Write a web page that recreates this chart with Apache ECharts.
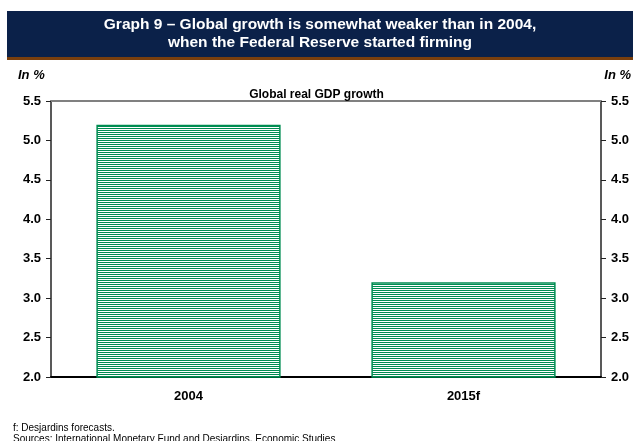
<!DOCTYPE html>
<html>
<head>
<meta charset="utf-8">
<script src="https://cdn.jsdelivr.net/npm/echarts@6/dist/echarts.min.js"></script>
<style>
  html, body { margin: 0; padding: 0; background: #ffffff; }
  #chart { width: 633px; height: 441px; }
</style>
</head>
<body>
<div id="chart"></div>
<script>
// Global real GDP growth, in %
const categories = ['2004', '2015f'];
const gdpGrowth = [5.2, 3.2];
const yTicks = [2.0, 2.5, 3.0, 3.5, 4.0, 4.5, 5.0, 5.5];

const titleLines = [
  'Graph 9 \u2013 Global growth is somewhat weaker than in 2004,',
  'when the Federal Reserve started firming'
];
const subtitle = 'Global real GDP growth';
const unitLabel = 'In %';
const notes = [
  'f: Desjardins forecasts.',
  'Sources: International Monetary Fund and Desjardins, Economic Studies'
];

const GREEN = '#008c52';
const FONT = 'Liberation Sans, Arial, sans-serif';

// Horizontal hatch fill for the bars
function stripePattern() {
  const c = document.createElement('canvas');
  c.width = 4; c.height = 2;
  const ctx = c.getContext('2d');
  ctx.fillStyle = '#ffffff';
  ctx.fillRect(0, 0, 4, 2);
  ctx.fillStyle = GREEN;
  ctx.fillRect(0, 0, 4, 1);
  return c;
}

const chart = echarts.init(document.getElementById('chart'), null, { renderer: 'canvas' });

const yMin = yTicks[0], yMax = yTicks[yTicks.length - 1], yStep = yTicks[1] - yTicks[0];

function yAxisDef(position) {
  return {
    type: 'value',
    position: position,
    min: yMin, max: yMax, interval: yStep,
    axisLine: { show: true, lineStyle: { color: '#222222', width: 1.5 } },
    axisTick: { show: true, inside: false, length: 5, lineStyle: { color: '#222222', width: 1 } },
    axisLabel: {
      formatter: v => v.toFixed(1),
      color: '#000000', fontFamily: FONT, fontWeight: 'bold', fontSize: 13,
      margin: 10
    },
    splitLine: { show: false }
  };
}

chart.setOption({
  animation: false,
  backgroundColor: '#ffffff',
  title: {
    text: subtitle,
    left: 'center',
    top: 84,
    textStyle: { fontFamily: FONT, fontWeight: 'bold', fontSize: 12, color: '#000000' }
  },
  grid: { left: 51, right: 32, top: 101, bottom: 64, containLabel: false },
  xAxis: [
    {
      type: 'category',
      data: categories,
      position: 'bottom',
      axisLine: { show: true, lineStyle: { color: '#000000', width: 2 } },
      axisTick: { show: false },
      axisLabel: {
        color: '#000000', fontFamily: FONT, fontWeight: 'bold', fontSize: 13, margin: 13
      }
    },
    {
      type: 'category',
      data: categories,
      position: 'top',
      axisLine: { show: true, lineStyle: { color: '#808080', width: 2 } },
      axisTick: { show: false },
      axisLabel: { show: false }
    }
  ],
  yAxis: [yAxisDef('left'), yAxisDef('right')],
  series: [{
    type: 'bar',
    data: gdpGrowth,
    barWidth: '67%',
    itemStyle: {
      color: { image: stripePattern(), repeat: 'repeat' },
      borderColor: GREEN,
      borderWidth: 1.5
    }
  }],
  graphic: [
    {
      type: 'rect',
      shape: { x: 7, y: 11, width: 626, height: 46 },
      style: { fill: '#0b2149' }
    },
    {
      type: 'rect',
      shape: { x: 7, y: 57, width: 626, height: 3 },
      style: { fill: '#7a3f0d' }
    },
    {
      type: 'text',
      x: 320, y: 16,
      style: {
        text: titleLines.join('\n'),
        fill: '#ffffff',
        font: 'bold 15.5px ' + FONT,
        align: 'center',
        lineHeight: 18
      }
    },
    {
      type: 'text',
      x: 18, y: 69,
      style: { text: unitLabel, fill: '#000000', font: 'italic bold 13px ' + FONT }
    },
    {
      type: 'text',
      x: 631, y: 69,
      style: { text: unitLabel, fill: '#000000', font: 'italic bold 13px ' + FONT, align: 'right' }
    },
    {
      type: 'text',
      x: 13, y: 423,
      style: {
        text: notes.join('\n'),
        fill: '#000000',
        font: '10px ' + FONT,
        lineHeight: 11
      }
    }
  ]
});
</script>
</body>
</html>
